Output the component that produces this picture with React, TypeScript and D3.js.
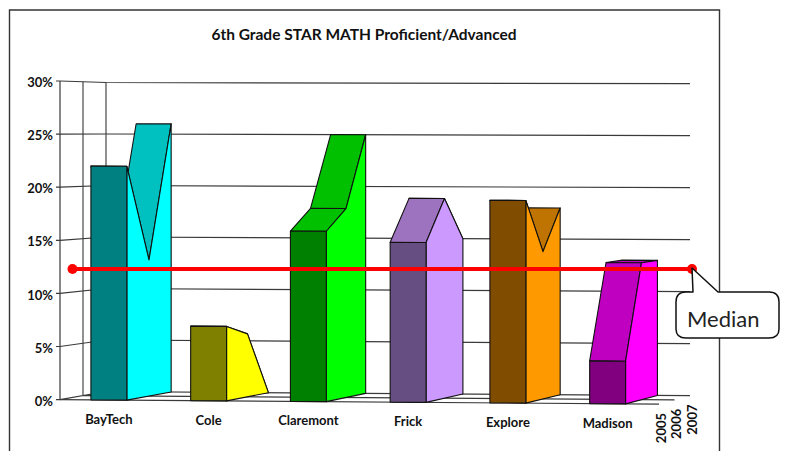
import React from "react";
import * as d3 from "d3";

const categories = ["BayTech", "Cole", "Claremont", "Frick", "Explore", "Madison"];
const years = ["2005", "2006", "2007"];
const values2005 = [22, 7, 16, 15, 19, 4];
const values2006 = [13, 6, 18, 19, 14, 13];
const values2007 = [26, 0, 25, 15, 18, 13];
const yTicks = [0, 5, 10, 15, 20, 25, 30];
const medianValue = 12.3;
const frontColors = ["#008080", "#808000", "#008000", "#664E82", "#804D00", "#800080"];
const topColors = ["#00C0C0", "#C0C000", "#00C000", "#9D72BF", "#BF7300", "#C000C0"];
const sideColors = ["#00FFFF", "#FFFF00", "#00FF00", "#CC99FF", "#FF9900", "#FF00FF"];

const FONT = "Lato, Carlito, sans-serif";
const INK = "#111";
const GRID = "#3a3a3a";

const xBand = d3.scaleBand<string>().domain(categories).range([60, 656.5]).paddingInner(0.64).paddingOuter(0.31);
const depthShift = d3.scaleLinear().domain([60, 659]).range([46, 31]);
const frontBase = d3.scaleLinear().domain([60, 640]).range([399.6, 404]);
const frontPx = d3.scaleLinear().domain([60, 640]).range([10.62, 10.68]);
const backBase = d3.scaleLinear().domain([106, 690]).range([391.5, 395.7]);
const backPx = d3.scaleLinear().domain([106, 690]).range([10.3, 10.4]);

// project a floor position x (front plane), a depth (0 front .. 1 back) and a value
function project(x: number, depth: number, v: number): [number, number] {
  const bx = x + depthShift(x);
  const yF = frontBase(x) - v * frontPx(x);
  const yB = backBase(bx) - v * backPx(bx);
  return [x + depth * (bx - x), yF + depth * (yB - yF)];
}
const line = d3.line<[number, number]>();
const poly = (pts: [number, number][]) => line(pts) + "Z";

const depths = years.map((_, i) => i / (years.length - 1));

function Bar({ index }: { index: number }) {
  const name = categories[index];
  const l = xBand(name)!;
  const r = l + xBand.bandwidth();
  const vals = [values2005[index], values2006[index], values2007[index]];
  const tops = vals.map((v, i) => ({ a: project(l, depths[i], v), b: project(r, depths[i], v) }));
  const stroke = { stroke: INK, strokeWidth: 1.1, strokeLinejoin: "round" as const };
  const side: [number, number][] = [
    ...tops.map((t) => t.b),
    project(r, 1, 0),
    project(r, 0, 0),
  ];
  return (
    <g>
      {[1, 0].map((s) => (
        <path key={s} d={poly([tops[s].a, tops[s].b, tops[s + 1].b, tops[s + 1].a])} fill={topColors[index]} {...stroke} />
      ))}
      <path d={poly(side)} fill={sideColors[index]} {...stroke} />
      <path
        d={poly([project(l, 0, vals[0]), project(r, 0, vals[0]), project(r, 0, 0), project(l, 0, 0)])}
        fill={frontColors[index]}
        {...stroke}
      />
    </g>
  );
}

export default function App() {
  const floorEnd = 659;
  const medianY = project(60, 0, medianValue)[1];
  const title = "6th Grade STAR MATH Proficient/Advanced";
  return (
    <svg
      width={786}
      height={451}
      viewBox="0 0 786 451"
      style={{ position: "absolute", left: 0, top: 0, background: "#fff" }}
      fontFamily={FONT}
    >
      <path d="M9.5,451V10H719.5V451" fill="none" stroke="#333" strokeWidth={1.4} />
      <text x={364} y={40} textAnchor="middle" fontSize={15.5} fontWeight={700} fill={INK}>
        {title}
      </text>

      {/* walls and gridlines */}
      {depths.map((d) => {
        const a = project(60, d, 0);
        const b = project(60, d, 30);
        return <line key={d} x1={a[0]} y1={a[1]} x2={b[0]} y2={b[1]} stroke={d === 0 ? INK : "#555"} strokeWidth={d === 0 ? 1 : 1.3} />;
      })}
      {yTicks.map((t) => {
        const f = project(60, 0, t);
        const b = project(60, 1, t);
        const e = project(floorEnd, 1, t);
        return (
          <g key={t}>
            <path d={line([[f[0] - 4, f[1]], f, b, e])!} fill="none" stroke={GRID} strokeWidth={1.2} />
            <text x={53} y={f[1] + 6.5 - t * 0.03} textAnchor="end" fontSize={13} fontWeight={700} fill={INK}>
              {t}%
            </text>
          </g>
        );
      })}
      {depths.slice(0, 2).map((d) => {
        const a = project(60, d, 0);
        const b = project(floorEnd, d, 0);
        return <line key={d} x1={a[0]} y1={a[1]} x2={b[0]} y2={b[1]} stroke={GRID} strokeWidth={1.2} />;
      })}

      {categories.map((_, i) => (
        <Bar key={i} index={i} />
      ))}

      {categories.map((c) => {
        const cx = xBand(c)! + xBand.bandwidth() / 2;
        return (
          <text key={c} x={cx} y={frontBase(cx) + 24} textAnchor="middle" fontSize={13} fontWeight={700} fill={INK}>
            {c}
          </text>
        );
      })}
      {years.map((y, i) => {
        const p = project(floorEnd, depths[i], 0);
        return (
          <text
            key={y}
            transform={`translate(${p[0] + 6.5},${p[1] + 39}) rotate(-90)`}
            fontSize={13}
            fontWeight={700}
            fill={INK}
          >
            {y}
          </text>
        );
      })}

      {/* median */}
      <line x1={72} y1={medianY} x2={692} y2={medianY} stroke="#f00" strokeWidth={4} />
      <circle cx={72.5} cy={medianY} r={5} fill="#f00" />
      <circle cx={692} cy={medianY} r={5} fill="#f00" />
      <path
        d="M692,268 L693,292 H686 Q676,292 676,302 V329 Q676,338 686,338 H769 Q779,338 779,329 V302 Q779,292 769,292 H718 Z"
        fill="#fff"
        stroke={INK}
        strokeWidth={1.5}
        strokeLinejoin="round"
      />
      <text x={687} y={327} fontSize={22} fill="#222">
        Median
      </text>
    </svg>
  );
}
